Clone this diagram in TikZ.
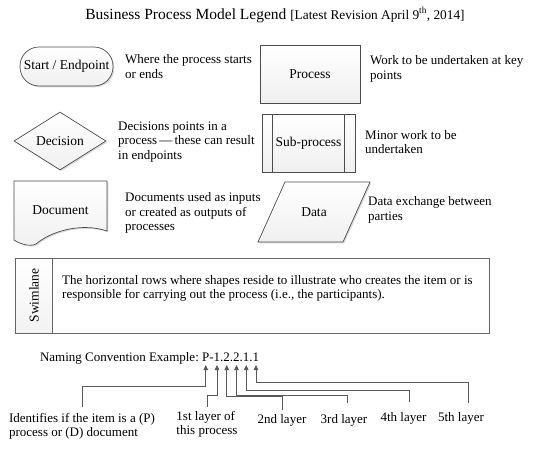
\documentclass[tikz,border=0pt]{standalone}
\usepackage{fontspec}
\setmainfont{Liberation Serif}
\usetikzlibrary{shadows,shapes.geometric,arrows.meta}
\begin{document}
\begin{tikzpicture}[x=1pt,y=-1pt,
  shp/.style={draw=black!70, line width=0.7pt, top color=white, bottom color=black!6,
    drop shadow={shadow xshift=1.3pt,shadow yshift=-1.3pt,opacity=0.3}},
  shptext/.style={font=\fontsize{13.5}{15}\selectfont, inner sep=0pt},
  desc/.style={anchor=west, align=left, font=\fontsize{13}{14.5}\selectfont, inner sep=0pt},
  lbl/.style={font=\fontsize{13}{14.5}\selectfont, inner sep=0pt, outer sep=0pt},
  chr/.style={lbl, anchor=base west},
  conn/.style={draw=black!65, line width=0.8pt, -{Triangle[length=5pt,width=4.5pt]}}]
\useasboundingbox (0,0) rectangle (550,452);

% title
\node[inner sep=0pt] (title) at (275,15) {\fontsize{15.5}{17}\selectfont Business Process Model Legend \fontsize{13.3}{15}\selectfont[Latest Revision April 9\textsuperscript{th}, 2014]};

% start / endpoint
\node[shp, shptext, rectangle, rounded corners=19pt, minimum width=93pt, minimum height=39pt] (start) at (66.5,66.5) {Start / Endpoint};
\node[desc] (startd) at (125,66.5) {Where the process starts\\or ends};

% process
\node[shp, shptext, rectangle, minimum width=100pt, minimum height=58pt] (proc) at (310,74) {Process};
\node[desc] (procd) at (370,69) {Work to be undertaken at key\\points};

% decision
\node[shp, shptext, diamond, minimum width=92pt, minimum height=58pt] (dec) at (60,141) {Decision};
\node[desc] (decd) at (118,142) {Decisions points in a\\process\,---\,these can result\\in endpoints};

% sub-process
\node[shp, shptext, rectangle, minimum width=93pt, minimum height=58pt] (sub) at (308.5,143) {Sub-process};
\draw[draw=black!70, line width=0.7pt] ([xshift=11pt]sub.north west) -- ([xshift=11pt]sub.south west);
\draw[draw=black!70, line width=0.7pt] ([xshift=-11pt]sub.north east) -- ([xshift=-11pt]sub.south east);
\node[desc] (subd) at (365,142) {Minor work to be\\undertaken};

% document
\path[shp] (14,181) -- (107,181) -- (107,231) .. controls (80,222) and (50,232) .. (36,244) .. controls (30,247) and (20,244) .. (14,240) -- cycle;
\node[shptext] (doc) at (60.5,210) {Document};
\node[desc] (docd) at (125,213) {Documents used as inputs\\or created as outputs of\\processes};

% data
\path[shp] (285,182) -- (370,182) -- (343,242) -- (258,242) -- cycle;
\node[shptext] (data) at (314,212) {Data};
\node[desc] (datad) at (368,210) {Data exchange between\\parties};

% swimlane
\draw[draw=black!60, line width=0.9pt, fill=white] (15,258) rectangle (489,333);
\draw[draw=black!60, line width=0.9pt, top color=white, bottom color=black!5] (15,258) rectangle (52,333);
\node[shptext, rotate=90] (swl) at (34,295.5) {Swimlane};
\node[desc] (swd) at (62,288.5) {The horizontal rows where shapes reside to illustrate who creates the item or is\\responsible for carrying out the process (i.e., the participants).};

% naming convention
\node[lbl, anchor=base west] (nm) at (40,361) {Naming Convention Example:};
\node[chr, xshift=3.3pt] (cP) at (nm.base east) {P};
\node[chr] (h0) at (cP.base east) {-};
\node[chr] (c1) at (h0.base east) {1};
\node[chr] (p1) at (c1.base east) {.};
\node[chr] (c2) at (p1.base east) {2};
\node[chr] (p2) at (c2.base east) {.};
\node[chr] (c3) at (p2.base east) {2};
\node[chr] (p3) at (c3.base east) {.};
\node[chr] (c4) at (p3.base east) {1};
\node[chr] (p4) at (c4.base east) {.};
\node[chr] (c5) at (p4.base east) {1};

% layer labels
\node[lbl, anchor=north, align=left] (l0) at (82,413) {Identifies if the item is a (P)\\process or (D) document};
\node[lbl, anchor=north, align=left] (l1) at (207,411) {1st layer of\\this process};
\node[lbl, anchor=north] (l2) at (282,414) {2nd layer};
\node[lbl, anchor=north] (l3) at (344,414) {3rd layer};
\node[lbl, anchor=north] (l4) at (403.5,412) {4th layer};
\node[lbl, anchor=north] (l5) at (461,412) {5th layer};

% connectors
\draw[conn] ([yshift=6pt]l0.north) -- ([yshift=6pt]l0.north |- 0,392) -| ([yshift=-4pt]cP.south);
\draw[conn] ([yshift=4pt]l1.north) -- ([yshift=4pt]l1.north |- 0,399) -| ([yshift=-4pt]c1.south);
\draw[conn] ([yshift=4pt]l2.north) -- ([yshift=4pt]l2.north |- 0,400.5) -| ([yshift=-4pt]c2.south);
\draw[conn] ([xshift=3pt,yshift=11pt]l3.north) -- ([xshift=3pt]l3.north |- 0,395) -| ([yshift=-4pt]c3.south);
\draw[conn] ([xshift=5.5pt,yshift=10pt]l4.north) -- ([xshift=5.5pt]l4.north |- 0,390.5) -| ([yshift=-4pt]c4.south);
\draw[conn] ([xshift=7pt,yshift=9pt]l5.north) -- ([xshift=7pt]l5.north |- 0,382) -| ([yshift=-4pt]c5.south);
\end{tikzpicture}
\end{document}
